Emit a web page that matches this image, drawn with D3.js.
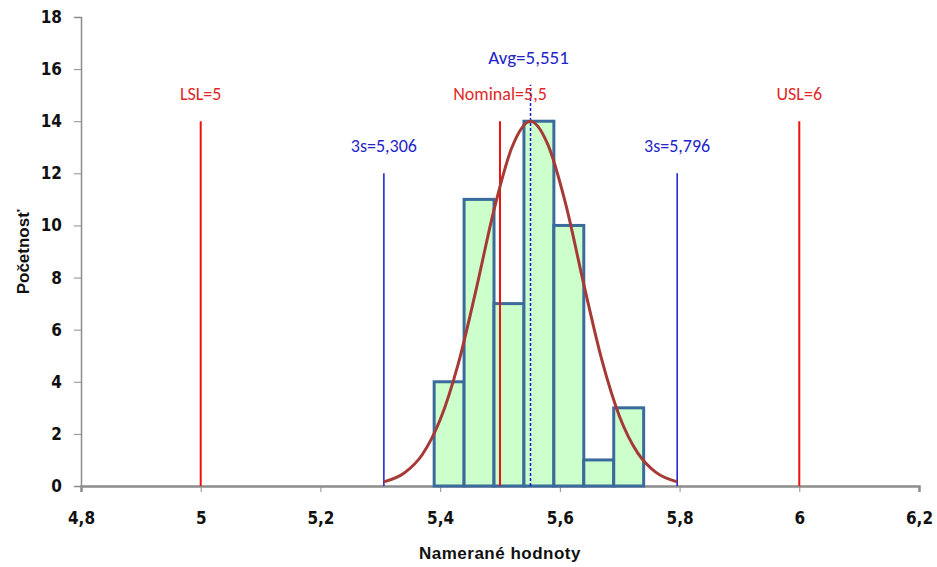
<!DOCTYPE html>
<html>
<head>
<meta charset="utf-8">
<script src="https://cdn.jsdelivr.net/npm/d3@7"></script>
<style>
  body { margin: 0; background: #fff; }
  svg { display: block; }
  .tick text { font-family: "Liberation Sans Narrow", "Arial Narrow", "DejaVu Sans Condensed", sans-serif; font-weight: bold; fill: #111; }
</style>
</head>
<body>
<div id="wrapper"></div>
<script>
// histogram bins (lower edge, upper edge) and counts
const binStart = [5.39, 5.44, 5.49, 5.54, 5.59, 5.64, 5.69];
const binEnd   = [5.44, 5.49, 5.54, 5.59, 5.64, 5.69, 5.74];
const counts   = [4, 11, 7, 14, 10, 1, 3];

// normal curve
const curveX = [5.306, 5.34, 5.37, 5.40, 5.43, 5.46, 5.49, 5.52, 5.551, 5.58, 5.61, 5.64, 5.67, 5.70, 5.73, 5.76, 5.796];
const curveY = [0.16, 0.50, 1.20, 2.54, 4.67, 7.53, 10.6, 13.0, 14.0, 13.1, 10.8, 7.74, 4.85, 2.65, 1.27, 0.53, 0.16];

// reference lines
const refNames  = ["LSL=5", "USL=6", "Nominal=5,5", "3s=5,306", "3s=5,796", "Avg=5,551"];
const refValues = [5, 6, 5.5, 5.306, 5.796, 5.551];
const refTops   = [14, 14, 14, 12, 12, 15.4];
const refKinds  = ["limit", "limit", "limit", "sigma", "sigma", "avg"];

const xTicks = [4.8, 5, 5.2, 5.4, 5.6, 5.8, 6, 6.2];
const yTicks = [0, 2, 4, 6, 8, 10, 12, 14, 16, 18];

const dimension = {
    width: 937,
    height: 567,
    margin: { top: 17, left: 81, bottom: 81, right: 18 }
};
dimension.boundedWidth = dimension.width - dimension.margin.left - dimension.margin.right;
dimension.boundedHeight = dimension.height - dimension.margin.top - dimension.margin.bottom;

const svg = d3.select("#wrapper").append("svg")
    .attr("width", dimension.width)
    .attr("height", dimension.height);
const bounded = svg.append("g")
    .attr("transform", `translate(${dimension.margin.left},${dimension.margin.top})`);

const xScale = d3.scaleLinear().domain([4.8, 6.2]).range([0, dimension.boundedWidth]);
const yScale = d3.scaleLinear().domain([0, 18]).range([dimension.boundedHeight, 0]);

// axes
const yAxis = bounded.append("g")
    .call(d3.axisLeft(yScale).tickValues(yTicks).tickSize(7).tickPadding(12));
yAxis.selectAll("text").style("font-size", "17px");
const xAxis = bounded.append("g")
    .attr("transform", `translate(0,${dimension.boundedHeight})`)
    .call(d3.axisBottom(xScale).tickValues(xTicks).tickSize(6).tickPadding(20)
        .tickFormat(d => String(d).replace(".", ",")));
xAxis.selectAll("text").style("font-size", "17px");
[yAxis, xAxis].forEach(a => {
    a.select(".domain").attr("stroke", "#8c8c8c").attr("stroke-width", 1.5);
    a.selectAll(".tick line").attr("stroke", "#8c8c8c");
});
xAxis.select(".domain").attr("stroke-width", 2.5);

// bars
const bins = counts.map((c, i) => ({ x0: binStart[i], x1: binEnd[i], n: c }));
bounded.selectAll(".bar").data(bins).join("rect")
    .attr("class", "bar")
    .attr("x", d => xScale(d.x0))
    .attr("width", d => xScale(d.x1) - xScale(d.x0))
    .attr("y", d => yScale(d.n))
    .attr("height", d => yScale(0) - yScale(d.n))
    .attr("fill", "#ccffcc")
    .attr("stroke", "#3b6b9c")
    .attr("stroke-width", 3);

// reference lines
const refs = refNames.map((n, i) => ({ name: n, v: refValues[i], top: refTops[i], kind: refKinds[i] }));
bounded.selectAll(".ref").data(refs).join("line")
    .attr("class", "ref")
    .attr("x1", d => xScale(d.v)).attr("x2", d => xScale(d.v))
    .attr("y1", yScale(0)).attr("y2", d => yScale(d.top))
    .attr("stroke", d => d.kind === "limit" ? "#ee1111" : "#1a1ad0")
    .attr("stroke-width", d => d.kind === "limit" ? 2 : 1.5)
    .attr("stroke-dasharray", d => d.kind === "avg" ? "3,2" : null);

// normal curve
const line = d3.line()
    .x((d, i) => xScale(curveX[i]))
    .y(d => yScale(d))
    .curve(d3.curveMonotoneX);
bounded.append("path")
    .attr("d", line(curveY))
    .attr("fill", "none")
    .attr("stroke", "#a53a37")
    .attr("stroke-width", 3);

// labels for reference lines
bounded.selectAll(".reflabel").data(refs).join("text")
    .attr("class", "reflabel")
    .attr("x", d => xScale(d.v) + (d.kind === "avg" ? -2 : 0))
    .attr("y", d => yScale(d.top) - 21)
    .attr("text-anchor", "middle")
    .attr("font-family", "Carlito, Calibri, 'Open Sans', sans-serif")
    .attr("font-size", d => d.kind === "avg" ? 19 : 18)
    .attr("fill", d => d.kind === "limit" ? "#e02828" : "#2424c8")
    .text(d => d.name);

// axis titles
svg.append("text")
    .attr("x", dimension.margin.left + dimension.boundedWidth / 2)
    .attr("y", 559)
    .attr("text-anchor", "middle")
    .attr("font-family", "'Liberation Sans Narrow', 'Arial Narrow', sans-serif")
    .attr("font-weight", "bold")
    .attr("font-size", 17)
    .attr("letter-spacing", 0.5)
    .attr("fill", "#111")
    .text("Namerané hodnoty");

svg.append("text")
    .attr("transform", `translate(29,252) rotate(-90)`)
    .attr("text-anchor", "middle")
    .attr("font-family", "'Liberation Sans Narrow', 'Arial Narrow', sans-serif")
    .attr("font-weight", "bold")
    .attr("font-size", 17)
    .attr("fill", "#111")
    .text("Početnosť");
</script>
</body>
</html>
